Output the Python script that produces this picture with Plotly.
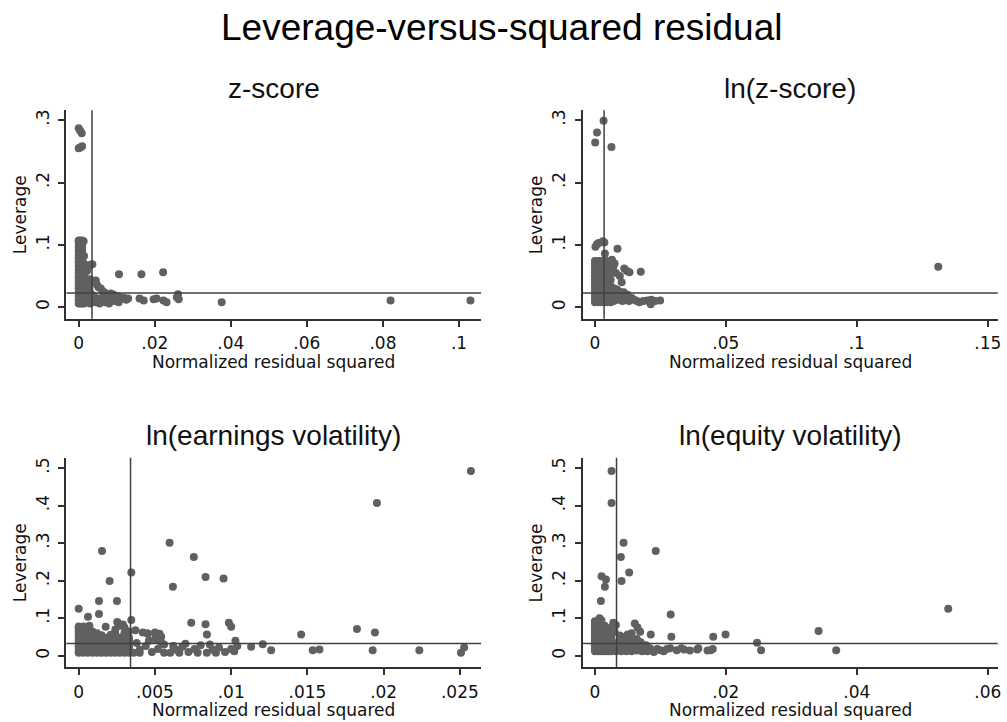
import plotly.graph_objects as go

# ---------------- data ----------------
panel_titles = ["z-score", "ln(z-score)", "ln(earnings volatility)", "ln(equity volatility)"]
main_title = "Leverage-versus-squared residual"
x_axis_title = "Normalized residual squared"
y_axis_title = "Leverage"

# reference lines: mean normalized residual squared (x) and mean leverage (y)
mean_rsq = [0.0035, 0.0035, 0.0034, 0.0033]
mean_lev = [0.023, 0.023, 0.033, 0.033]

x_tickvals = [[0, 0.02, 0.04, 0.06, 0.08, 0.1],
              [0, 0.05, 0.1, 0.15],
              [0, 0.005, 0.01, 0.015, 0.02, 0.025],
              [0, 0.02, 0.04, 0.06]]
x_ticktext = [["0", ".02", ".04", ".06", ".08", ".1"],
              ["0", ".05", ".1", ".15"],
              ["0", ".005", ".01", ".015", ".02", ".025"],
              ["0", ".02", ".04", ".06"]]
y_tickvals = [[0, 0.1, 0.2, 0.3], [0, 0.1, 0.2, 0.3],
              [0, 0.1, 0.2, 0.3, 0.4, 0.5], [0, 0.1, 0.2, 0.3, 0.4, 0.5]]
y_ticktext = [["0", ".1", ".2", ".3"], ["0", ".1", ".2", ".3"],
              ["0", ".1", ".2", ".3", ".4", ".5"], ["0", ".1", ".2", ".3", ".4", ".5"]]

zscore_pts = [
    (0.0000, 0.287), (0.0004, 0.283), (0.0008, 0.279), (0.0000, 0.255), (0.0004, 0.256), (0.0009, 0.258),
    (0.0000, 0.006), (0.0000, 0.012), (0.0000, 0.018), (0.0000, 0.024), (0.0000, 0.030), (0.0000, 0.036),
    (0.0000, 0.042), (0.0000, 0.048), (0.0000, 0.054), (0.0000, 0.060), (0.0000, 0.066), (0.0000, 0.072),
    (0.0000, 0.078), (0.0000, 0.084), (0.0000, 0.090), (0.0000, 0.097), (0.0000, 0.104), (0.0000, 0.107),
    (0.0004, 0.006), (0.0004, 0.012), (0.0004, 0.018), (0.0004, 0.024), (0.0004, 0.030), (0.0004, 0.036),
    (0.0004, 0.042), (0.0004, 0.048), (0.0004, 0.054), (0.0004, 0.060), (0.0004, 0.066), (0.0004, 0.072),
    (0.0004, 0.078), (0.0004, 0.084), (0.0004, 0.090), (0.0004, 0.097), (0.0004, 0.104), (0.0004, 0.107),
    (0.0009, 0.006), (0.0009, 0.012), (0.0009, 0.018), (0.0009, 0.024), (0.0009, 0.030), (0.0009, 0.036),
    (0.0009, 0.042), (0.0009, 0.048), (0.0009, 0.054), (0.0009, 0.060), (0.0009, 0.066), (0.0009, 0.072),
    (0.0009, 0.078), (0.0009, 0.084), (0.0009, 0.090), (0.0009, 0.097), (0.0009, 0.104), (0.0009, 0.107),
    (0.0014, 0.006), (0.0014, 0.012), (0.0014, 0.020), (0.0014, 0.030), (0.0014, 0.040), (0.0014, 0.050),
    (0.0014, 0.060), (0.0014, 0.070), (0.0014, 0.082), (0.0013, 0.106),
    (0.0018, 0.010), (0.0018, 0.025), (0.0020, 0.045), (0.0022, 0.058), (0.0026, 0.064), (0.0031, 0.068),
    (0.0036, 0.069), (0.0024, 0.036), (0.0028, 0.030), (0.0032, 0.022), (0.0030, 0.045), (0.0040, 0.040),
    (0.0045, 0.043), (0.0048, 0.036), (0.0052, 0.032), (0.0058, 0.030), (0.0062, 0.026), (0.0066, 0.024),
    (0.0072, 0.022), (0.0078, 0.020), (0.0085, 0.022), (0.0092, 0.020),
    (0.0020, 0.008), (0.0025, 0.014), (0.0030, 0.006), (0.0035, 0.012), (0.0040, 0.018), (0.0045, 0.008),
    (0.0050, 0.014), (0.0055, 0.006), (0.0060, 0.012), (0.0065, 0.018), (0.0070, 0.008), (0.0075, 0.013),
    (0.0080, 0.006), (0.0085, 0.012), (0.0090, 0.016), (0.0095, 0.010), (0.0100, 0.018), (0.0105, 0.012),
    (0.0110, 0.016), (0.0115, 0.014), (0.0120, 0.015), (0.0125, 0.012), (0.0130, 0.014), (0.0105, 0.008),
    (0.0106, 0.053), (0.0165, 0.053), (0.0222, 0.056), (0.0171, 0.011), (0.0197, 0.013), (0.0223, 0.011),
    (0.0231, 0.008), (0.0261, 0.021), (0.0263, 0.013), (0.0258, 0.016), (0.0376, 0.008), (0.0820, 0.011),
    (0.1030, 0.011), (0.0205, 0.014), (0.0160, 0.014),
]

lnzscore_pts = [
    (0.0001, 0.264), (0.0008, 0.280), (0.0033, 0.299), (0.0063, 0.257),
    (0.0002, 0.097), (0.0008, 0.101), (0.0014, 0.103), (0.0030, 0.106), (0.0036, 0.104), (0.0038, 0.086),
    (0.0086, 0.094), (0.0112, 0.062), (0.0122, 0.058), (0.0132, 0.056), (0.0175, 0.057), (0.0102, 0.040),
    (0.0095, 0.050), (0.0080, 0.055), (0.0070, 0.065), (0.0075, 0.070), (0.0065, 0.076), (0.0058, 0.072),
    (0.0000, 0.008), (0.0000, 0.014), (0.0000, 0.020), (0.0000, 0.026), (0.0000, 0.032), (0.0000, 0.038),
    (0.0000, 0.044), (0.0000, 0.050), (0.0000, 0.056), (0.0000, 0.062), (0.0000, 0.068), (0.0000, 0.074),
    (0.0012, 0.008), (0.0012, 0.014), (0.0012, 0.020), (0.0012, 0.026), (0.0012, 0.032), (0.0012, 0.038),
    (0.0012, 0.044), (0.0012, 0.050), (0.0012, 0.056), (0.0012, 0.062), (0.0012, 0.068), (0.0012, 0.074),
    (0.0024, 0.008), (0.0024, 0.014), (0.0024, 0.020), (0.0024, 0.026), (0.0024, 0.032), (0.0024, 0.038),
    (0.0024, 0.044), (0.0024, 0.050), (0.0024, 0.056), (0.0024, 0.062), (0.0024, 0.068), (0.0024, 0.074),
    (0.0036, 0.008), (0.0036, 0.014), (0.0036, 0.020), (0.0036, 0.026), (0.0036, 0.032), (0.0036, 0.038),
    (0.0036, 0.044), (0.0036, 0.050), (0.0036, 0.056), (0.0036, 0.062), (0.0036, 0.068), (0.0036, 0.074),
    (0.0048, 0.008), (0.0048, 0.014), (0.0048, 0.020), (0.0048, 0.026), (0.0048, 0.032), (0.0048, 0.038),
    (0.0048, 0.044), (0.0048, 0.050), (0.0048, 0.056), (0.0048, 0.062), (0.0048, 0.068), (0.0048, 0.074),
    (0.0060, 0.008), (0.0060, 0.014), (0.0060, 0.020), (0.0060, 0.026), (0.0060, 0.034), (0.0060, 0.044),
    (0.0060, 0.054), (0.0060, 0.064),
    (0.0072, 0.010), (0.0078, 0.016), (0.0085, 0.022), (0.0090, 0.012), (0.0098, 0.018), (0.0105, 0.010),
    (0.0110, 0.024), (0.0118, 0.014), (0.0125, 0.020), (0.0130, 0.010), (0.0140, 0.015), (0.0150, 0.012),
    (0.0160, 0.010), (0.0170, 0.008), (0.0185, 0.010), (0.0200, 0.011), (0.0213, 0.005), (0.0215, 0.012),
    (0.0230, 0.010), (0.0249, 0.011), (0.0075, 0.030), (0.0085, 0.028), (0.0095, 0.025),
    (0.1311, 0.065),
]

lnearn_pts = [
    (0.02572, 0.492), (0.01956, 0.407), (0.00596, 0.301), (0.00755, 0.263), (0.00153, 0.279), (0.00345, 0.222),
    (0.00203, 0.199), (0.00832, 0.210), (0.00950, 0.206), (0.00618, 0.184), (0.00133, 0.146), (0.00251, 0.146),
    (0.00000, 0.125), (0.00061, 0.104), (0.00133, 0.111), (0.00177, 0.077), (0.00345, 0.095), (0.00738, 0.088),
    (0.00832, 0.084), (0.00841, 0.057), (0.00985, 0.088), (0.01000, 0.077), (0.01459, 0.057), (0.01825, 0.071),
    (0.01943, 0.062), (0.01028, 0.040), (0.01131, 0.024), (0.01207, 0.031), (0.01262, 0.015), (0.01535, 0.015),
    (0.01579, 0.017), (0.01928, 0.015), (0.02234, 0.015), (0.02507, 0.008), (0.02528, 0.022), (0.00530, 0.059),
    (0.00541, 0.051), (0.00500, 0.062), (0.00454, 0.059), (0.00253, 0.090), (0.00372, 0.068), (0.00449, 0.060),
    (0.00500, 0.044), (0.00420, 0.062),
    (0.0000, 0.008), (0.0000, 0.016), (0.0000, 0.024), (0.0000, 0.032), (0.0000, 0.040), (0.0000, 0.048),
    (0.0000, 0.056), (0.0000, 0.064), (0.0000, 0.072), (0.0000, 0.078),
    (0.0003, 0.008), (0.0003, 0.016), (0.0003, 0.024), (0.0003, 0.032), (0.0003, 0.040), (0.0003, 0.048),
    (0.0003, 0.056), (0.0003, 0.064), (0.0003, 0.072), (0.0003, 0.078),
    (0.0006, 0.008), (0.0006, 0.016), (0.0006, 0.024), (0.0006, 0.032), (0.0006, 0.040), (0.0006, 0.048),
    (0.0006, 0.056), (0.0006, 0.064), (0.0006, 0.072), (0.0007, 0.080),
    (0.0009, 0.008), (0.0009, 0.016), (0.0009, 0.024), (0.0009, 0.032), (0.0009, 0.040), (0.0009, 0.048),
    (0.0012, 0.008), (0.0012, 0.016), (0.0012, 0.024), (0.0012, 0.032), (0.0012, 0.040), (0.0012, 0.048),
    (0.0015, 0.008), (0.0015, 0.016), (0.0015, 0.024), (0.0015, 0.032), (0.0015, 0.040), (0.0015, 0.048),
    (0.0018, 0.008), (0.0018, 0.016), (0.0018, 0.024), (0.0018, 0.032), (0.0018, 0.040), (0.0018, 0.048),
    (0.0021, 0.008), (0.0021, 0.016), (0.0021, 0.024), (0.0021, 0.032), (0.0021, 0.040), (0.0021, 0.048),
    (0.0024, 0.008), (0.0024, 0.016), (0.0024, 0.024), (0.0024, 0.032), (0.0024, 0.040), (0.0024, 0.048),
    (0.0027, 0.008), (0.0027, 0.016), (0.0027, 0.024), (0.0027, 0.032), (0.0027, 0.040), (0.0027, 0.048),
    (0.0030, 0.008), (0.0030, 0.016), (0.0030, 0.024), (0.0030, 0.032), (0.0030, 0.040), (0.0030, 0.048),
    (0.0033, 0.008), (0.0033, 0.016), (0.0033, 0.024), (0.0033, 0.032), (0.0033, 0.040), (0.0033, 0.048),
    (0.0021, 0.056), (0.0024, 0.070), (0.0027, 0.080), (0.0030, 0.075), (0.0026, 0.086), (0.0029, 0.083),
    (0.0033, 0.065), (0.0012, 0.060), (0.0009, 0.065), (0.0015, 0.055), (0.0030, 0.060), (0.0024, 0.058),
    (0.0036, 0.008), (0.0040, 0.016), (0.0044, 0.026), (0.0048, 0.010), (0.0052, 0.018), (0.0056, 0.030),
    (0.0060, 0.008), (0.0064, 0.016), (0.0068, 0.024), (0.0072, 0.010), (0.0076, 0.018), (0.0080, 0.028),
    (0.0084, 0.008), (0.0088, 0.016), (0.0092, 0.022), (0.0096, 0.010), (0.0100, 0.018), (0.0104, 0.026),
    (0.0038, 0.034), (0.0046, 0.040), (0.0054, 0.036), (0.0062, 0.026), (0.0070, 0.032), (0.0086, 0.030),
    (0.0040, 0.008), (0.0056, 0.008), (0.0066, 0.008), (0.0078, 0.008), (0.0090, 0.008), (0.0102, 0.012),
]

lneq_pts = [
    (0.00254, 0.492), (0.00254, 0.407), (0.00437, 0.301), (0.00396, 0.263), (0.00406, 0.199), (0.00523, 0.222),
    (0.00929, 0.279), (0.00091, 0.146), (0.00102, 0.212), (0.00168, 0.203), (0.00152, 0.184), (0.01157, 0.110),
    (0.01168, 0.051), (0.00853, 0.057), (0.00609, 0.086), (0.00690, 0.064), (0.00500, 0.057), (0.01807, 0.051),
    (0.01995, 0.057), (0.03416, 0.066), (0.05396, 0.125), (0.03685, 0.015), (0.02477, 0.035), (0.02538, 0.015),
    (0.01766, 0.015), (0.01563, 0.017), (0.01360, 0.017), (0.01150, 0.020), (0.01000, 0.015), (0.00900, 0.010),
    (0.00650, 0.075), (0.00560, 0.060), (0.00640, 0.045),
    (0.0000, 0.012), (0.0000, 0.020), (0.0000, 0.028), (0.0000, 0.036), (0.0000, 0.044), (0.0000, 0.052),
    (0.0000, 0.060), (0.0000, 0.068), (0.0000, 0.076), (0.0000, 0.084), (0.0000, 0.092),
    (0.0005, 0.012), (0.0005, 0.020), (0.0005, 0.028), (0.0005, 0.036), (0.0005, 0.044), (0.0005, 0.052),
    (0.0005, 0.060), (0.0005, 0.068), (0.0005, 0.076), (0.0005, 0.084), (0.0005, 0.092), (0.0007, 0.100),
    (0.0010, 0.012), (0.0010, 0.020), (0.0010, 0.028), (0.0010, 0.036), (0.0010, 0.044), (0.0010, 0.052),
    (0.0010, 0.060), (0.0010, 0.068), (0.0010, 0.076), (0.0010, 0.084), (0.0010, 0.094),
    (0.0015, 0.012), (0.0015, 0.020), (0.0015, 0.028), (0.0015, 0.036), (0.0015, 0.044), (0.0015, 0.052),
    (0.0015, 0.060), (0.0015, 0.070), (0.0015, 0.080),
    (0.0020, 0.012), (0.0020, 0.020), (0.0020, 0.028), (0.0020, 0.036), (0.0020, 0.044), (0.0020, 0.052),
    (0.0020, 0.060), (0.0020, 0.070),
    (0.0025, 0.012), (0.0025, 0.020), (0.0025, 0.028), (0.0025, 0.036), (0.0025, 0.044), (0.0025, 0.056),
    (0.0025, 0.075), (0.0028, 0.088), (0.0032, 0.082), (0.0030, 0.064),
    (0.0032, 0.012), (0.0036, 0.020), (0.0040, 0.012), (0.0044, 0.024), (0.0048, 0.012), (0.0052, 0.020),
    (0.0056, 0.012), (0.0060, 0.024), (0.0064, 0.014), (0.0068, 0.020), (0.0072, 0.012), (0.0076, 0.018),
    (0.0080, 0.012), (0.0084, 0.020), (0.0036, 0.036), (0.0042, 0.044), (0.0048, 0.032), (0.0055, 0.040),
    (0.0062, 0.030), (0.0070, 0.036), (0.0078, 0.028), (0.0038, 0.054), (0.0045, 0.050),
    (0.0095, 0.018), (0.0105, 0.012), (0.0110, 0.018), (0.0125, 0.015), (0.0132, 0.020), (0.0145, 0.014),
    (0.0158, 0.020), (0.0172, 0.014), (0.0180, 0.018),
]

series = [zscore_pts, lnzscore_pts, lnearn_pts, lneq_pts]

# ---------------- layout geometry ----------------
W, H = 1007, 722
x_domains = [[66.7, 483.0], [585.0, 1001.7], [66.7, 483.0], [585.0, 1001.7]]
y_domains = [[109.3, 318.3], [109.3, 318.3], [457.3, 667.3], [457.3, 667.3]]
x_ranges = [[-0.00322, 0.1058], [-0.00468, 0.1538], [-0.000804, 0.02639], [-0.00187, 0.06152]]
y_ranges = [[-0.0186, 0.316], [-0.0186, 0.316], [-0.0309, 0.5277], [-0.0309, 0.5277]]

marker_color = "#606060"
axis_color = "#303030"
ref_color = "#404040"
tick_font = dict(family="DejaVu Sans", size=17, color="#111111")
title_font = dict(family="Liberation Sans", size=28, color="#111111")

fig = go.Figure()
layout = dict(width=W, height=H, margin=dict(l=0, r=0, t=0, b=0),
              paper_bgcolor="white", plot_bgcolor="white", showlegend=False)
annotations = []
shapes = []

for i, pts in enumerate(series):
    n = "" if i == 0 else str(i + 1)
    xs = [p[0] for p in pts]
    ys = [p[1] for p in pts]
    fig.add_trace(go.Scatter(x=xs, y=ys, mode="markers", xaxis="x" + n, yaxis="y" + n,
                             marker=dict(size=8, color=marker_color, line=dict(width=0)),
                             hoverinfo="skip"))
    xd = [x_domains[i][0] / W, x_domains[i][1] / W]
    yd = [1 - y_domains[i][1] / H, 1 - y_domains[i][0] / H]
    layout["xaxis" + n] = dict(domain=xd, range=x_ranges[i], anchor="y" + n,
                               tickvals=x_tickvals[i], ticktext=x_ticktext[i],
                               showgrid=False, zeroline=False, showline=True, linecolor=axis_color,
                               linewidth=2, ticks="outside", ticklen=6, tickwidth=2, tickcolor=axis_color,
                               tickfont=tick_font, ticklabelstandoff=2)
    layout["yaxis" + n] = dict(domain=yd, range=y_ranges[i], anchor="x" + n,
                               tickvals=y_tickvals[i], ticktext=y_ticktext[i],
                               showgrid=False, zeroline=False, showline=True, linecolor=axis_color,
                               linewidth=2, ticks="outside", ticklen=6, tickwidth=2, tickcolor=axis_color,
                               tickfont=tick_font, tickangle=-90, ticklabelstandoff=3)
    # reference lines
    shapes.append(dict(type="line", xref="x" + n, yref="y" + n + " domain",
                       x0=mean_rsq[i], x1=mean_rsq[i], y0=0, y1=1,
                       line=dict(color=ref_color, width=1.5), layer="above"))
    shapes.append(dict(type="line", xref="x" + n + " domain", yref="y" + n,
                       x0=0, x1=1, y0=mean_lev[i], y1=mean_lev[i],
                       line=dict(color=ref_color, width=1.5), layer="above"))
    xc = (xd[0] + xd[1]) / 2
    yc = (yd[0] + yd[1]) / 2
    top_px = y_domains[i][0]
    bot_px = y_domains[i][1]
    annotations.append(dict(text=panel_titles[i], xref="paper", yref="paper", x=xc,
                            y=1 - (top_px - 22) / H, xanchor="center", yanchor="middle",
                            showarrow=False, font=title_font))
    annotations.append(dict(text=x_axis_title, xref="paper", yref="paper", x=xc,
                            y=1 - (bot_px + 43) / H, xanchor="center", yanchor="middle",
                            showarrow=False, font=tick_font))
    annotations.append(dict(text=y_axis_title, xref="paper", yref="paper",
                            x=(x_domains[i][0] - 47) / W, y=yc, xanchor="center", yanchor="middle",
                            textangle=-90, showarrow=False, font=tick_font))

annotations.append(dict(text=main_title, xref="paper", yref="paper", x=0.5, y=1 - 27 / H,
                        xanchor="center", yanchor="middle", showarrow=False,
                        font=dict(family="Liberation Sans", size=37, color="black")))

layout["annotations"] = annotations
layout["shapes"] = shapes
fig.update_layout(**layout)
fig.write_html("out.html", config={"displayModeBar": False},
               post_script="document.body.style.margin='0px';")
